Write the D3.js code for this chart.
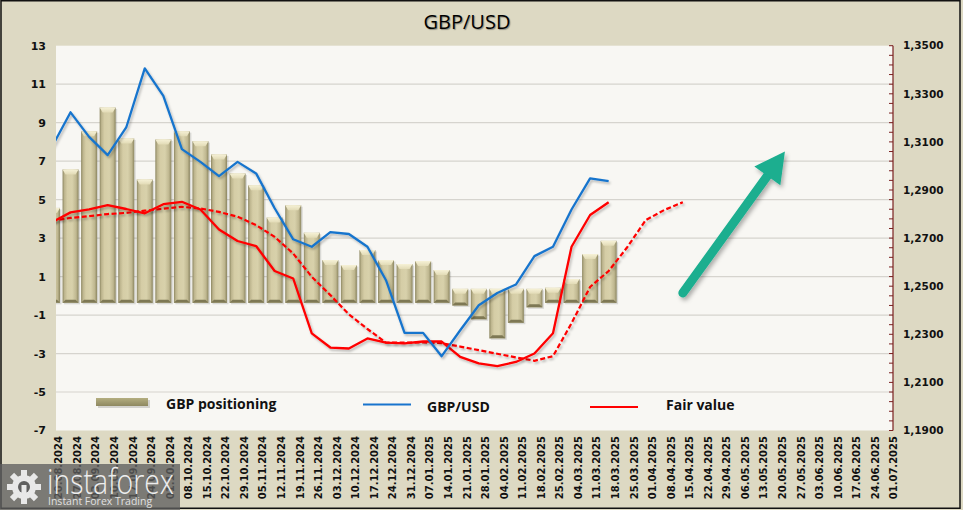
<!DOCTYPE html>
<html>
<head>
<meta charset="utf-8">
<script src="https://cdn.jsdelivr.net/npm/d3@7/dist/d3.min.js"></script>
<style>
  html, body { margin: 0; padding: 0; background: #DDD9C3; }
  svg { display: block; }
</style>
</head>
<body>
<svg id="chart" width="963" height="510"></svg>
<script>
// ---------------- DATA ----------------
const dates = ["20.08.2024","27.08.2024","03.09.2024","10.09.2024","17.09.2024","24.09.2024","01.10.2024","08.10.2024","15.10.2024","22.10.2024","29.10.2024","05.11.2024","12.11.2024","19.11.2024","26.11.2024","03.12.2024","10.12.2024","17.12.2024","24.12.2024","31.12.2024","07.01.2025","14.01.2025","21.01.2025","28.01.2025","04.02.2025","11.02.2025","18.02.2025","25.02.2025","04.03.2025","11.03.2025","18.03.2025","25.03.2025","01.04.2025","08.04.2025","15.04.2025","22.04.2025","29.04.2025","06.05.2025","13.05.2025","20.05.2025","27.05.2025","03.06.2025","10.06.2025","17.06.2025","24.06.2025","01.07.2025"];
const positioning = [4.57, 6.57, 8.56, 9.79, 8.18, 6.05, 8.13, 8.56, 8.04, 7.35, 6.36, 5.75, 4.07, 4.71, 3.28, 1.86, 1.60, 2.38, 1.86, 1.65, 1.81, 1.34, -0.50, -1.22, -2.21, -1.40, -0.60, 0.42, 0.87, 2.17, 2.86];
const gbpusd = [1.3080, 1.3223, 1.3121, 1.3045, 1.3160, 1.3406, 1.3291, 1.3070, 1.3017, 1.2958, 1.3017, 1.2969, 1.2824, 1.2695, 1.2664, 1.2725, 1.2717, 1.2664, 1.2525, 1.2306, 1.2306, 1.2209, 1.2317, 1.2421, 1.2472, 1.2507, 1.2625, 1.2664, 1.2819, 1.2948, 1.2937];
const fairValue = [1.2766, 1.2807, 1.2819, 1.2837, 1.2821, 1.2803, 1.2841, 1.2851, 1.2819, 1.2736, 1.2688, 1.2667, 1.2563, 1.2532, 1.2304, 1.2245, 1.2241, 1.2283, 1.2265, 1.2262, 1.2270, 1.2270, 1.2206, 1.2179, 1.2168, 1.2185, 1.2220, 1.2304, 1.2664, 1.2796, 1.2849];
const fairValueTrend = [1.2772, 1.2784, 1.2791, 1.2800, 1.2805, 1.2814, 1.2822, 1.2830, 1.2823, 1.2809, 1.2789, 1.2754, 1.2705, 1.2636, 1.2539, 1.2463, 1.2383, 1.2322, 1.2265, 1.2265, 1.2266, 1.2263, 1.2249, 1.2234, 1.2219, 1.2204, 1.2190, 1.2209, 1.2346, 1.2497, 1.2563, 1.2662, 1.2775, 1.2817, 1.2849];
const leftTicks = [13, 11, 9, 7, 5, 3, 1, -1, -3, -5, -7];
const rightTicks = [1.35, 1.33, 1.31, 1.29, 1.27, 1.25, 1.23, 1.21, 1.19];
const seriesNames = ["GBP positioning", "GBP/USD", "Fair value"];
const title = "GBP/USD";
// arrow annotation in data terms (category index, left-axis value)
const arrowFrom = [34, 0.15];
const arrowTo = [39.5, 7.5];

// ---------------- LAYOUT ----------------
const W = 963, H = 510;
const plot = { left: 56, right: 893, top: 45.7, bottom: 430.5 };
const step = 18.555;
const firstCenter = 52;

const svg = d3.select("#chart");
const defs = svg.append("defs");

const x = d3.scaleBand()
  .domain(dates)
  .range([firstCenter - step / 2, firstCenter - step / 2 + step * dates.length])
  .paddingInner(0).paddingOuter(0);
const xc = i => x(dates[0]) + step * i + step / 2;
const yL = d3.scaleLinear().domain([-7, 13]).range([plot.bottom, plot.top]);
const yR = d3.scaleLinear().domain([1.19, 1.35]).range([plot.bottom, plot.top]);

// background
svg.append("rect").attr("x", 0).attr("y", 0).attr("width", W).attr("height", H).attr("fill", "#DDD9C3");

// plot area
svg.append("rect")
  .attr("x", plot.left).attr("y", plot.top)
  .attr("width", plot.right - plot.left).attr("height", plot.bottom - plot.top)
  .attr("fill", "#F8F7F3");

defs.append("clipPath").attr("id", "plotClip")
  .append("rect").attr("x", plot.left).attr("y", plot.top - 5)
  .attr("width", plot.right - plot.left).attr("height", plot.bottom - plot.top + 5);

// gradients
const bg = defs.append("linearGradient").attr("id", "barGrad").attr("x1", 0).attr("x2", 1).attr("y1", 0).attr("y2", 0);
[[0, "#8C8660"], [0.12, "#BDB58E"], [0.3, "#D5CDA6"], [0.6, "#D8D1AB"], [0.85, "#BFB790"], [1, "#8C8660"]]
  .forEach(([o, c]) => bg.append("stop").attr("offset", o).attr("stop-color", c));
const cg = defs.append("linearGradient").attr("id", "capGrad").attr("x1", 0).attr("x2", 0).attr("y1", 0).attr("y2", 1);
[[0, "#F6F1D6"], [1, "#E2DBB6"]].forEach(([o, c]) => cg.append("stop").attr("offset", o).attr("stop-color", c));
const lg = defs.append("linearGradient").attr("id", "legGrad").attr("x1", 0).attr("x2", 0).attr("y1", 0).attr("y2", 1);
[[0, "#B4AE80"], [1, "#8E8860"]].forEach(([o, c]) => lg.append("stop").attr("offset", o).attr("stop-color", c));

const sh = defs.append("filter").attr("id", "lineShadow").attr("x", "-5%").attr("y", "-5%").attr("width", "110%").attr("height", "120%");
sh.append("feDropShadow").attr("dx", 1.5).attr("dy", 2).attr("stdDeviation", 1.2).attr("flood-color", "#000").attr("flood-opacity", 0.25);
const ash = defs.append("filter").attr("id", "arrowShadow").attr("x", "-20%").attr("y", "-20%").attr("width", "140%").attr("height", "140%");
ash.append("feDropShadow").attr("dx", 2).attr("dy", 3).attr("stdDeviation", 2).attr("flood-color", "#000").attr("flood-opacity", 0.3);

// gridlines
svg.append("g").selectAll("line").data(leftTicks.filter(t => t !== 13 && t !== -7)).join("line")
  .attr("x1", plot.left).attr("x2", plot.right)
  .attr("y1", d => yL(d)).attr("y2", d => yL(d))
  .attr("stroke", "#D6D4CE").attr("stroke-width", 1.2);

// left axis labels
const fTick = "'DejaVu Sans', Verdana, sans-serif";
svg.append("g").selectAll("text").data(leftTicks).join("text")
  .attr("x", 46).attr("y", d => yL(d)).attr("dy", "0.36em")
  .attr("text-anchor", "end")
  .attr("font-family", fTick).attr("font-weight", "bold").attr("font-size", 11)
  .attr("fill", "#111").text(d => d);

// right axis
svg.append("line").attr("x1", plot.right).attr("x2", plot.right).attr("y1", plot.top).attr("y2", plot.bottom)
  .attr("stroke", "#7A1F1F").attr("stroke-width", 1.2);
svg.append("g").selectAll("line").data(d3.range(0, 41)).join("line")
  .attr("x1", plot.right - 4).attr("x2", plot.right)
  .attr("y1", i => yR(1.19 + i * 0.004)).attr("y2", i => yR(1.19 + i * 0.004))
  .attr("stroke", "#7A1F1F").attr("stroke-width", 1);
const fmtR = d => d3.format(".4f")(d).replace(".", ",");
svg.append("g").selectAll("text").data(rightTicks).join("text")
  .attr("x", 903).attr("y", d => yR(d)).attr("dy", "0.36em")
  .attr("text-anchor", "start")
  .attr("font-family", fTick).attr("font-weight", "bold").attr("font-size", 10.5)
  .attr("fill", "#111").text(fmtR);

// x labels
svg.append("g").selectAll("text").data(dates).join("text")
  .attr("transform", (d, i) => `translate(${xc(i) + 6.8},436) rotate(-90)`)
  .attr("dy", "0.35em").attr("text-anchor", "end")
  .attr("font-family", fTick).attr("font-weight", "bold").attr("font-size", 10)
  .attr("fill", "#111").text(d => d);

// bars
const plotG = svg.append("g").attr("clip-path", "url(#plotClip)");
const bevel = 7, barW = 16, cap = 5;
const barG = plotG.append("g");
positioning.forEach((v, i) => {
  const cx = xc(i);
  const top = v >= 0 ? yL(v) : yL(0) - bevel;
  const bot = v >= 0 ? yL(0) + bevel : yL(v);
  const g = barG.append("g");
  g.append("rect").attr("x", cx - barW / 2 + 1.5).attr("y", top + 1.5).attr("width", barW).attr("height", bot - top)
    .attr("fill", "#000").attr("opacity", 0.12);
  g.append("rect").attr("x", cx - barW / 2).attr("y", top).attr("width", barW).attr("height", bot - top)
    .attr("fill", "url(#barGrad)");
  g.append("path")
    .attr("d", `M${cx - barW / 2},${top} L${cx + barW / 2},${top} L${cx + barW / 2 - 3},${top + cap} L${cx - barW / 2 + 3},${top + cap} Z`)
    .attr("fill", "url(#capGrad)");
  g.append("path")
    .attr("d", `M${cx - barW / 2},${bot} L${cx + barW / 2},${bot} L${cx + barW / 2 - 3},${bot - 3} L${cx - barW / 2 + 3},${bot - 3} Z`)
    .attr("fill", "#7E7854");
});

// lines
const line = d3.line().x((d, i) => xc(i)).y(d => yR(d));
plotG.append("path").datum(fairValueTrend).attr("d", line)
  .attr("fill", "none").attr("stroke", "#FF0000").attr("stroke-width", 2.2)
  .attr("stroke-dasharray", "5,2.5").attr("filter", "url(#lineShadow)");
plotG.append("path").datum(fairValue).attr("d", line)
  .attr("fill", "none").attr("stroke", "#FF0000").attr("stroke-width", 2.3)
  .attr("stroke-linejoin", "round").attr("filter", "url(#lineShadow)");
plotG.append("path").datum(gbpusd).attr("d", line)
  .attr("fill", "none").attr("stroke", "#1874CD").attr("stroke-width", 2.3)
  .attr("stroke-linejoin", "round").attr("filter", "url(#lineShadow)");

// arrow annotation
(function () {
  const x0 = xc(arrowFrom[0]), y0 = yL(arrowFrom[1]);
  const x1 = xc(arrowTo[0]), y1 = yL(arrowTo[1]);
  const dx = x1 - x0, dy = y1 - y0, len = Math.hypot(dx, dy);
  const ux = dx / len, uy = dy / len, px = -uy, py = ux;
  const headL = 30, headW = 16;
  const bx = x1 - ux * headL, by = y1 - uy * headL;
  const g = svg.append("g").attr("filter", "url(#arrowShadow)");
  g.append("line").attr("x1", x0).attr("y1", y0).attr("x2", bx + ux * 4).attr("y2", by + uy * 4)
    .attr("stroke", "#1AAE8F").attr("stroke-width", 9).attr("stroke-linecap", "round");
  g.append("path")
    .attr("d", `M${x1},${y1} L${bx + px * headW},${by + py * headW} L${bx - px * headW},${by - py * headW} Z`)
    .attr("fill", "#1AAE8F");
})();

// legend
const fLeg = "'Open Sans', 'Liberation Sans', sans-serif";
const leg = svg.append("g");
leg.append("rect").attr("x", 98).attr("y", 400).attr("width", 52).attr("height", 8).attr("fill", "#000").attr("opacity", 0.15);
leg.append("rect").attr("x", 96).attr("y", 398).attr("width", 52).attr("height", 8).attr("fill", "url(#legGrad)");
leg.append("text").attr("x", 166).attr("y", 404).attr("dy", "0.35em")
  .attr("font-family", fLeg).attr("font-weight", "bold").attr("font-size", 14).attr("fill", "#111").text(seriesNames[0]);
leg.append("line").attr("x1", 363).attr("x2", 411).attr("y1", 404.5).attr("y2", 404.5)
  .attr("stroke", "#1874CD").attr("stroke-width", 2);
leg.append("text").attr("x", 427).attr("y", 407).attr("dy", "0.35em")
  .attr("font-family", fLeg).attr("font-weight", "bold").attr("font-size", 14).attr("fill", "#111").text(seriesNames[1]);
leg.append("line").attr("x1", 590).attr("x2", 638).attr("y1", 407).attr("y2", 407)
  .attr("stroke", "#FF0000").attr("stroke-width", 2);
leg.append("text").attr("x", 666).attr("y", 405).attr("dy", "0.35em")
  .attr("font-family", fLeg).attr("font-weight", "bold").attr("font-size", 14).attr("fill", "#111").text(seriesNames[2]);

// title
svg.append("text").attr("x", 467).attr("y", 22).attr("dy", "0.35em").attr("text-anchor", "middle")
  .attr("font-family", fLeg).attr("font-size", 20).attr("fill", "#000")
  .attr("style", "text-shadow: 1px 1px 1px rgba(0,0,0,0.35)").text(title);

// outer border
svg.append("rect").attr("x", 1).attr("y", 0.75).attr("width", 959).attr("height", 507.5)
  .attr("fill", "none").attr("stroke", "#111").attr("stroke-width", 1.5);

// watermark logo
const logo = svg.append("g");
logo.append("rect").attr("x", 0).attr("y", 464).attr("width", 180).attr("height", 46).attr("fill", "rgba(95,95,95,0.78)");
const gear = logo.append("g").attr("transform", "translate(24,487)");
d3.range(8).forEach(k => {
  gear.append("rect").attr("x", -3).attr("y", -17).attr("width", 6).attr("height", 8)
    .attr("fill", "#E8E8E8").attr("transform", `rotate(${k * 45})`);
});
gear.append("circle").attr("r", 12).attr("fill", "#E8E8E8");
gear.append("circle").attr("r", 6).attr("fill", "rgb(95,95,95)");
gear.append("rect").attr("x", -2.5).attr("y", -2).attr("width", 5).attr("height", 14).attr("fill", "#E8E8E8");
logo.append("text").attr("x", 47).attr("y", 494).attr("font-family", fLeg).attr("font-weight", 300)
  .attr("font-size", 34).attr("fill", "#EDEDED")
  .attr("textLength", 127).attr("lengthAdjust", "spacingAndGlyphs").text("instaforex");
logo.append("text").attr("x", 48).attr("y", 505).attr("font-family", fLeg)
  .attr("font-size", 10.5).attr("fill", "#E0E0E0").text("Instant Forex Trading");
</script>
</body>
</html>
